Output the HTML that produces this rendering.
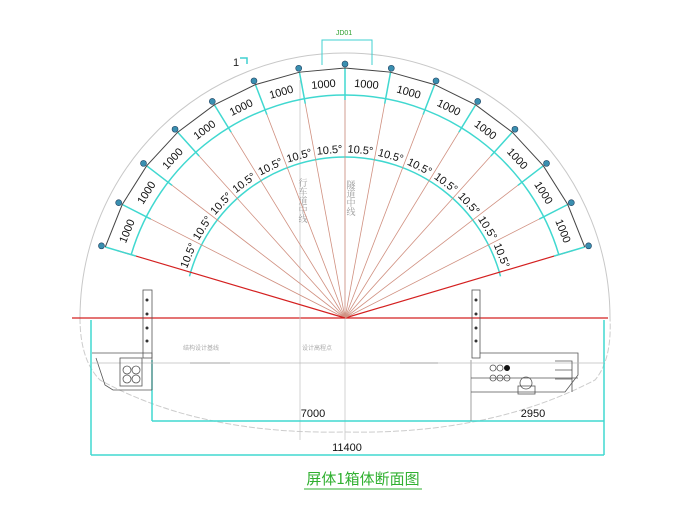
<!DOCTYPE html>
<html><head><meta charset="utf-8"><style>
html,body{margin:0;padding:0;background:#fff;width:700px;height:512px;overflow:hidden}
svg{display:block}
text{font-family:"Liberation Sans","Noto Sans CJK SC",sans-serif}
</style></head><body>
<svg id="s" width="700" height="512" viewBox="0 0 700 512" xmlns="http://www.w3.org/2000/svg">
<!-- outer tunnel profile -->
<path d="M80 318 A265 265 0 0 1 610 318" fill="none" stroke="#c8c8c8" stroke-width="1"/>
<path d="M80 318 Q80 360 100 380 Q200 435 345 432 Q490 435 595 380 Q612 360 610 318" fill="none" stroke="#cccccc" stroke-width="1" stroke-dasharray="6,2"/>
<!-- horizontal red line -->
<line x1="72" y1="318" x2="608" y2="318" stroke="#d42020" stroke-width="1.2"/>
<!-- centerlines -->
<line x1="300" y1="80" x2="300" y2="440" stroke="#c8c8c8" stroke-width="0.8"/>
<line x1="345" y1="60" x2="345" y2="440" stroke="#c8c8c8" stroke-width="0.8"/>
<text x="303" y="178" font-size="9" fill="#999" style="writing-mode:vertical-rl;font-family:'Noto Serif CJK SC',serif">行车道中线</text>
<text x="351" y="180" font-size="9" fill="#999" style="writing-mode:vertical-rl;font-family:'Noto Serif CJK SC',serif">隧道中线</text>
<g id="g"></g>
<!-- JD01 -->
<polyline points="322,65 322,40 372,40 372,65" fill="none" stroke="#40d0d0" stroke-width="1"/>
<text x="344" y="35" font-size="7" fill="#30a030" text-anchor="middle">JD01</text>
<text x="233" y="66" font-size="11" fill="#222">1</text>
<polyline points="240,58 247,58 247,64" fill="none" stroke="#40d0d0" stroke-width="1.5"/>
<!-- dimensions -->
<g stroke="#40d8d0" stroke-width="1.5" fill="none">
<line x1="91" y1="320" x2="91" y2="455"/><line x1="604" y1="320" x2="604" y2="455"/>
<line x1="91" y1="455" x2="604" y2="455"/>
<line x1="152" y1="421" x2="604" y2="421"/><line x1="152" y1="360" x2="152" y2="421"/>
</g>
<line x1="471" y1="360" x2="471" y2="421" stroke="#888" stroke-width="0.8"/>
<text x="313" y="417" font-size="11" fill="#111" text-anchor="middle">7000</text>
<text x="533" y="417" font-size="11" fill="#111" text-anchor="middle">2950</text>
<text x="347" y="451" font-size="11" fill="#111" text-anchor="middle">11400</text>
<!-- bottom structures -->
<g stroke="#555" stroke-width="0.8" fill="none">
<rect x="143" y="290" width="9" height="68"/>
<rect x="472" y="290" width="8" height="68"/>
<polyline points="92,353 152,353 152,390"/>
<polyline points="96,358 105,385 113,390 152,390"/>
<polyline points="480,353 578,353 578,375 565,392 471,392"/>
<line x1="471" y1="378" x2="578" y2="378"/>
<line x1="92" y1="363" x2="604" y2="363" stroke="#bbb"/>
<circle cx="127" cy="370" r="4"/><circle cx="136" cy="370" r="4"/><circle cx="127" cy="379" r="4"/><circle cx="136" cy="379" r="4"/>
<rect x="120" y="358" width="22" height="28"/>
<circle cx="493" cy="368" r="3"/><circle cx="500" cy="368" r="3"/><circle cx="493" cy="378" r="3"/><circle cx="500" cy="378" r="3"/><circle cx="507" cy="378" r="3"/>
<circle cx="526" cy="383" r="6"/><rect x="518" y="386" width="17" height="8"/>
<polyline points="555,361 572,361 572,392"/><line x1="555" y1="370" x2="572" y2="370"/><line x1="555" y1="379" x2="572" y2="379"/>
</g>
<circle cx="507" cy="368" r="3" fill="#111"/>
<g fill="#333"><circle cx="147" cy="300" r="1.5"/><circle cx="147" cy="314" r="1.5"/><circle cx="147" cy="328" r="1.5"/><circle cx="147" cy="341" r="1.5"/>
<circle cx="476" cy="300" r="1.5"/><circle cx="476" cy="314" r="1.5"/><circle cx="476" cy="328" r="1.5"/><circle cx="476" cy="341" r="1.5"/></g>
<text x="183" y="350" font-size="6" fill="#aaa" style="font-family:'Noto Sans CJK SC',sans-serif">结构设计基线</text>
<text x="302" y="350" font-size="6" fill="#aaa" style="font-family:'Noto Sans CJK SC',sans-serif">设计高程点</text>
<line x1="190" y1="363" x2="230" y2="363" stroke="#999" stroke-width="0.8"/>
<line x1="400" y1="363" x2="438" y2="363" stroke="#999" stroke-width="0.8"/>
<!-- title -->
<text x="363" y="484" font-size="15" fill="#30b030" text-anchor="middle" style="font-family:'Noto Sans CJK SC',sans-serif">屏体1箱体断面图</text>
<line x1="304" y1="489" x2="422" y2="489" stroke="#30b030" stroke-width="1"/>
</svg>
<script>
var g=document.getElementById('g'),cx=345,cy=318,ns='http://www.w3.org/2000/svg',h='';
function P(r,a){var t=a*Math.PI/180;return [cx+r*Math.cos(t),cy-r*Math.sin(t)];}
h+='<path d="M'+P(223,16.5)+' A223 223 0 0 0 '+P(223,163.5)+'" fill="none" stroke="#40d8d0" stroke-width="1.5"/>';
h+='<path d="M'+P(161,15)+' A161 161 0 0 0 '+P(161,165)+'" fill="none" stroke="#40d8d0" stroke-width="1.5"/>';
var pts=[];
for(var k=0;k<15;k++){var a=16.5+10.5*k;var e=P(238,a);
 var col=(k==0||k==14)?'#d42020':'#d09080';var w=(k==0||k==14)?1.2:0.8;
 h+='<line x1="'+cx+'" y1="'+cy+'" x2="'+e[0]+'" y2="'+e[1]+'" stroke="'+col+'" stroke-width="'+w+'"/>';
 var t1=P(218,a),t2=P(250,a);
 h+='<line x1="'+t1[0]+'" y1="'+t1[1]+'" x2="'+t2[0]+'" y2="'+t2[1]+'" stroke="#40d8d0" stroke-width="1.5"/>';
 var s=P(254,a);pts.push(P(250,a));
 h+='<circle cx="'+s[0]+'" cy="'+s[1]+'" r="3" fill="#3a8fb0" stroke="#204060" stroke-width="0.6"/>';
}
h+='<polyline points="'+pts.join(' ')+'" fill="none" stroke="#444" stroke-width="1"/>';
for(var k=0;k<14;k++){var a=16.5+10.5*k+5.25;var p=P(234,a),q=P(168,a);var rot=90-a;
 h+='<text x="'+p[0]+'" y="'+p[1]+'" font-size="11" fill="#111" text-anchor="middle" dominant-baseline="middle" transform="rotate('+rot+' '+p[0]+' '+p[1]+')">1000</text>';
 h+='<text x="'+q[0]+'" y="'+q[1]+'" font-size="11" fill="#111" text-anchor="middle" dominant-baseline="middle" transform="rotate('+rot+' '+q[0]+' '+q[1]+')">10.5°</text>';
}
g.innerHTML=h;
</script>
</body></html>
